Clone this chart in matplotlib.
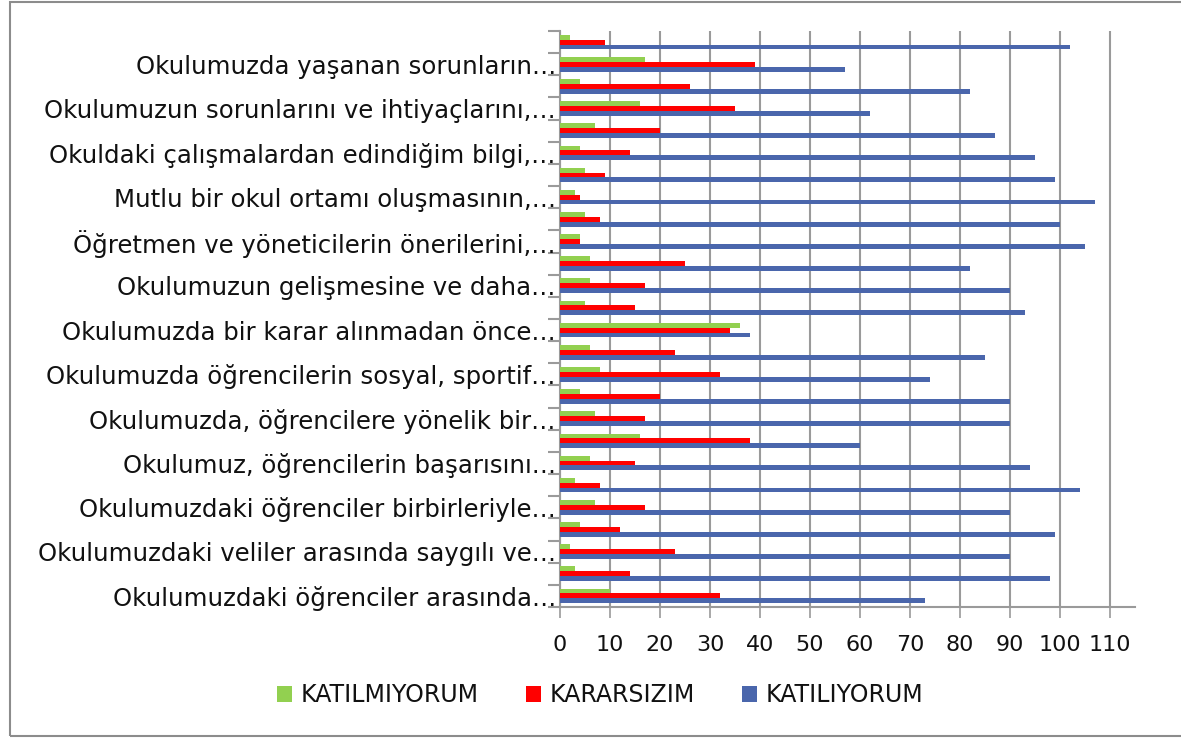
import matplotlib.pyplot as plt
from matplotlib.patches import Rectangle
import numpy as np

# statements, bottom group first; only every other one carries a label
labels = [
    "Okulumuzdaki öğrenciler arasında…",
    "Okulumuzdaki veliler arasında saygılı ve…",
    "Okulumuzdaki öğrenciler birbirleriyle…",
    "Okulumuz, öğrencilerin başarısını…",
    "Okulumuzda, öğrencilere yönelik bir…",
    "Okulumuzda öğrencilerin sosyal, sportif…",
    "Okulumuzda bir karar alınmadan önce…",
    "Okulumuzun gelişmesine ve daha…",
    "Öğretmen ve yöneticilerin önerilerini,…",
    "Mutlu bir okul ortamı oluşmasının,…",
    "Okuldaki çalışmalardan edindiğim bilgi,…",
    "Okulumuzun sorunlarını ve ihtiyaçlarını,…",
    "Okulumuzda yaşanan sorunların…",
]

katilmiyorum = [10, 3, 2, 4, 7, 3, 6, 16, 7, 4, 8, 6, 36,
                5, 6, 6, 4, 5, 3, 5, 4, 7, 16, 4, 17, 2]
kararsizim = [32, 14, 23, 12, 17, 8, 15, 38, 17, 20, 32, 23, 34,
              15, 17, 25, 4, 8, 4, 9, 14, 20, 35, 26, 39, 9]
katiliyorum = [73, 98, 90, 99, 90, 104, 94, 60, 90, 90, 74, 85, 38,
               93, 90, 82, 105, 100, 107, 99, 95, 87, 62, 82, 57, 102]

series = ["KATILMIYORUM", "KARARSIZIM", "KATILIYORUM"]
colors = ["#92D050", "#FF0000", "#4A66AC"]

plt.rcParams['font.family'] = ['DejaVu Sans']

fig = plt.figure(figsize=(11.81, 7.38), dpi=100)
ax = fig.add_axes([560/1181, 1-607/738, 575/1181, 576/738])

n = len(katiliyorum)
y = np.arange(n)
h = 0.22
ax.barh(y + h, katilmiyorum, height=h, color=colors[0], label=series[0], zorder=3)
ax.barh(y, kararsizim, height=h, color=colors[1], label=series[1], zorder=3)
ax.barh(y - h, katiliyorum, height=h, color=colors[2], label=series[2], zorder=3)

ax.set_xlim(0, 115)
ax.set_ylim(-0.5, n - 0.5)
ax.set_xticks(range(0, 111, 10))
ax.xaxis.grid(True, color="#9a9a9a", linewidth=1.5, zorder=0)
ax.tick_params(axis='x', length=8, width=1.2, color="#9a9a9a", labelsize=16, pad=12,
               labelcolor="#111111")

ax.set_yticks(np.arange(-0.5, n, 1.0))
ax.set_yticklabels([])
ax.tick_params(axis='y', which='major', length=9, width=1.5, color="#9a9a9a")
ax.set_yticks(np.arange(0, n, 2), minor=True)
ax.set_yticklabels(labels, minor=True)
ax.tick_params(axis='y', which='minor', length=0, labelsize=17.6, pad=3,
               labelcolor="#111111")

for s in ["top", "right"]:
    ax.spines[s].set_visible(False)
for s in ["left", "bottom"]:
    ax.spines[s].set_color("#9a9a9a")
    ax.spines[s].set_linewidth(1.5)

leg = fig.legend(loc="center", bbox_to_anchor=(600/1181, 1-695/738), ncol=3, frameon=False,
                 fontsize=17, handlelength=0.65, handleheight=0.65, handletextpad=0.35,
                 columnspacing=2.0)
for t in leg.get_texts():
    t.set_color("#111111")

fig.patches.append(Rectangle((10/1181, 2/738), 1.1, 734/738, transform=fig.transFigure,
                             fill=False, edgecolor="#8c8c8c", linewidth=1.5))

fig.savefig("out.png", dpi=100)
